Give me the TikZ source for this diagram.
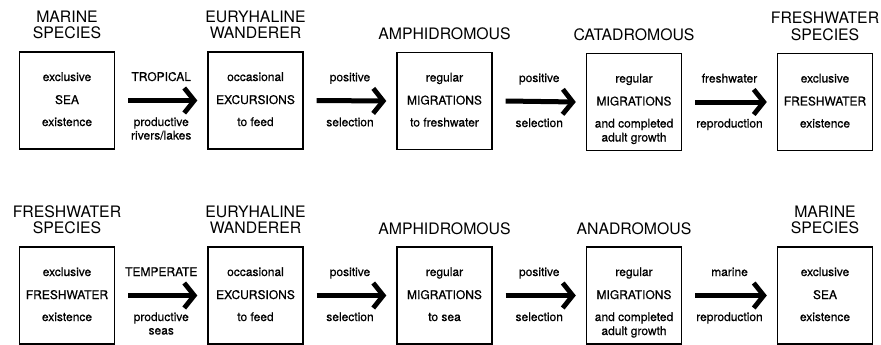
\documentclass[tikz,border=0pt]{standalone}
\usepackage{fontspec}
\setmainfont{TeX Gyre Heros}
\newfontfamily\medfont[FakeBold=0.5]{TeX Gyre Heros}
\usetikzlibrary{arrows.meta,calc}
\tikzset{
  box/.style={draw, line width=1.4pt, minimum width=95pt, minimum height=97pt, inner sep=0pt},
  txt/.style={font=\medfont\fontsize{12}{14}\selectfont, anchor=base, inner sep=0pt},
  ttl/.style={font=\fontsize{15.8}{17}\selectfont, anchor=base, inner sep=0pt},
  arr/.style={line width=5pt, -{Straight Barb[length=10pt, width=25pt, line width=4.8pt]}},
}
\newcommand{\boxlines}[4]{%
  \node[txt] (#1a) at ([yshift=19.5pt]#1.center) {#2};
  \node[txt] (#1b) at ([yshift=-3.5pt]#1.center) {#3};
  \node[txt] (#1c) at ([yshift=-25.5pt]#1.center) {#4};
}
\newcommand{\twotitle}[3]{%
  \node[ttl] (#1t1) at ([yshift=29pt]#1.north) {#2};
  \node[ttl] (#1t2) at ([yshift=12.5pt]#1.north) {#3};
}
\newcommand{\onetitle}[2]{%
  \node[ttl] (#1t1) at ([yshift=12pt]#1.north) {#2};
}
\newcommand{\arrowlabels}[5]{%
  \coordinate (#1m) at ($(#1.east)!0.5!(#2.west)$);
  \draw[arr] ([xshift=13pt]#1.east) -- ([xshift=-10pt]#2.west);
  \node[txt] (#1la) at ([yshift=19.5pt]#1m) {#3};
  \node[txt] (#1lb) at ([yshift=-25.5pt]#1m) {#4};
  \node[txt] (#1lc) at ([yshift=-39pt]#1m) {#5};
}
\begin{document}
\begin{tikzpicture}[x=1pt,y=-1pt]
\useasboundingbox[fill=white] (0,0) rectangle (881,345);
% top row
\node[box] (t1) at (67,100.5) {};
\node[box] (t2) at (255.5,100.5) {};
\node[box] (t3) at (444.5,101) {};
\node[box] (t4) at (634,102) {};
\node[box] (t5) at (825,102) {};
\twotitle{t1}{MARINE}{SPECIES}
\twotitle{t2}{EURYHALINE}{WANDERER}
\onetitle{t3}{AMPHIDROMOUS}
\onetitle{t4}{CATADROMOUS}
\twotitle{t5}{FRESHWATER}{SPECIES}
\boxlines{t1}{exclusive}{SEA}{existence}
\boxlines{t2}{occasional}{EXCURSIONS}{to feed}
\boxlines{t3}{regular}{MIGRATIONS}{to freshwater}
\boxlines{t4}{regular}{MIGRATIONS}{and completed}
\node[txt] (t4d) at ([yshift=-39.5pt]t4.center) {adult growth};
\boxlines{t5}{exclusive}{FRESHWATER}{existence}
\arrowlabels{t1}{t2}{TROPICAL}{productive}{rivers/lakes}
\arrowlabels{t2}{t3}{positive}{selection}{}
\arrowlabels{t3}{t4}{positive}{selection}{}
\arrowlabels{t4}{t5}{freshwater}{reproduction}{}
% bottom row
\node[box] (b1) at (67,295.5) {};
\node[box] (b2) at (255.5,295.5) {};
\node[box] (b3) at (444.5,295.5) {};
\node[box] (b4) at (634,295.5) {};
\node[box] (b5) at (825,295.5) {};
\twotitle{b1}{FRESHWATER}{SPECIES}
\twotitle{b2}{EURYHALINE}{WANDERER}
\onetitle{b3}{AMPHIDROMOUS}
\onetitle{b4}{ANADROMOUS}
\twotitle{b5}{MARINE}{SPECIES}
\boxlines{b1}{exclusive}{FRESHWATER}{existence}
\boxlines{b2}{occasional}{EXCURSIONS}{to feed}
\boxlines{b3}{regular}{MIGRATIONS}{to sea}
\boxlines{b4}{regular}{MIGRATIONS}{and completed}
\node[txt] (b4d) at ([yshift=-39.5pt]b4.center) {adult growth};
\boxlines{b5}{exclusive}{SEA}{existence}
\arrowlabels{b1}{b2}{TEMPERATE}{productive}{seas}
\arrowlabels{b2}{b3}{positive}{selection}{}
\arrowlabels{b3}{b4}{positive}{selection}{}
\arrowlabels{b4}{b5}{marine}{reproduction}{}
\end{tikzpicture}
\end{document}
